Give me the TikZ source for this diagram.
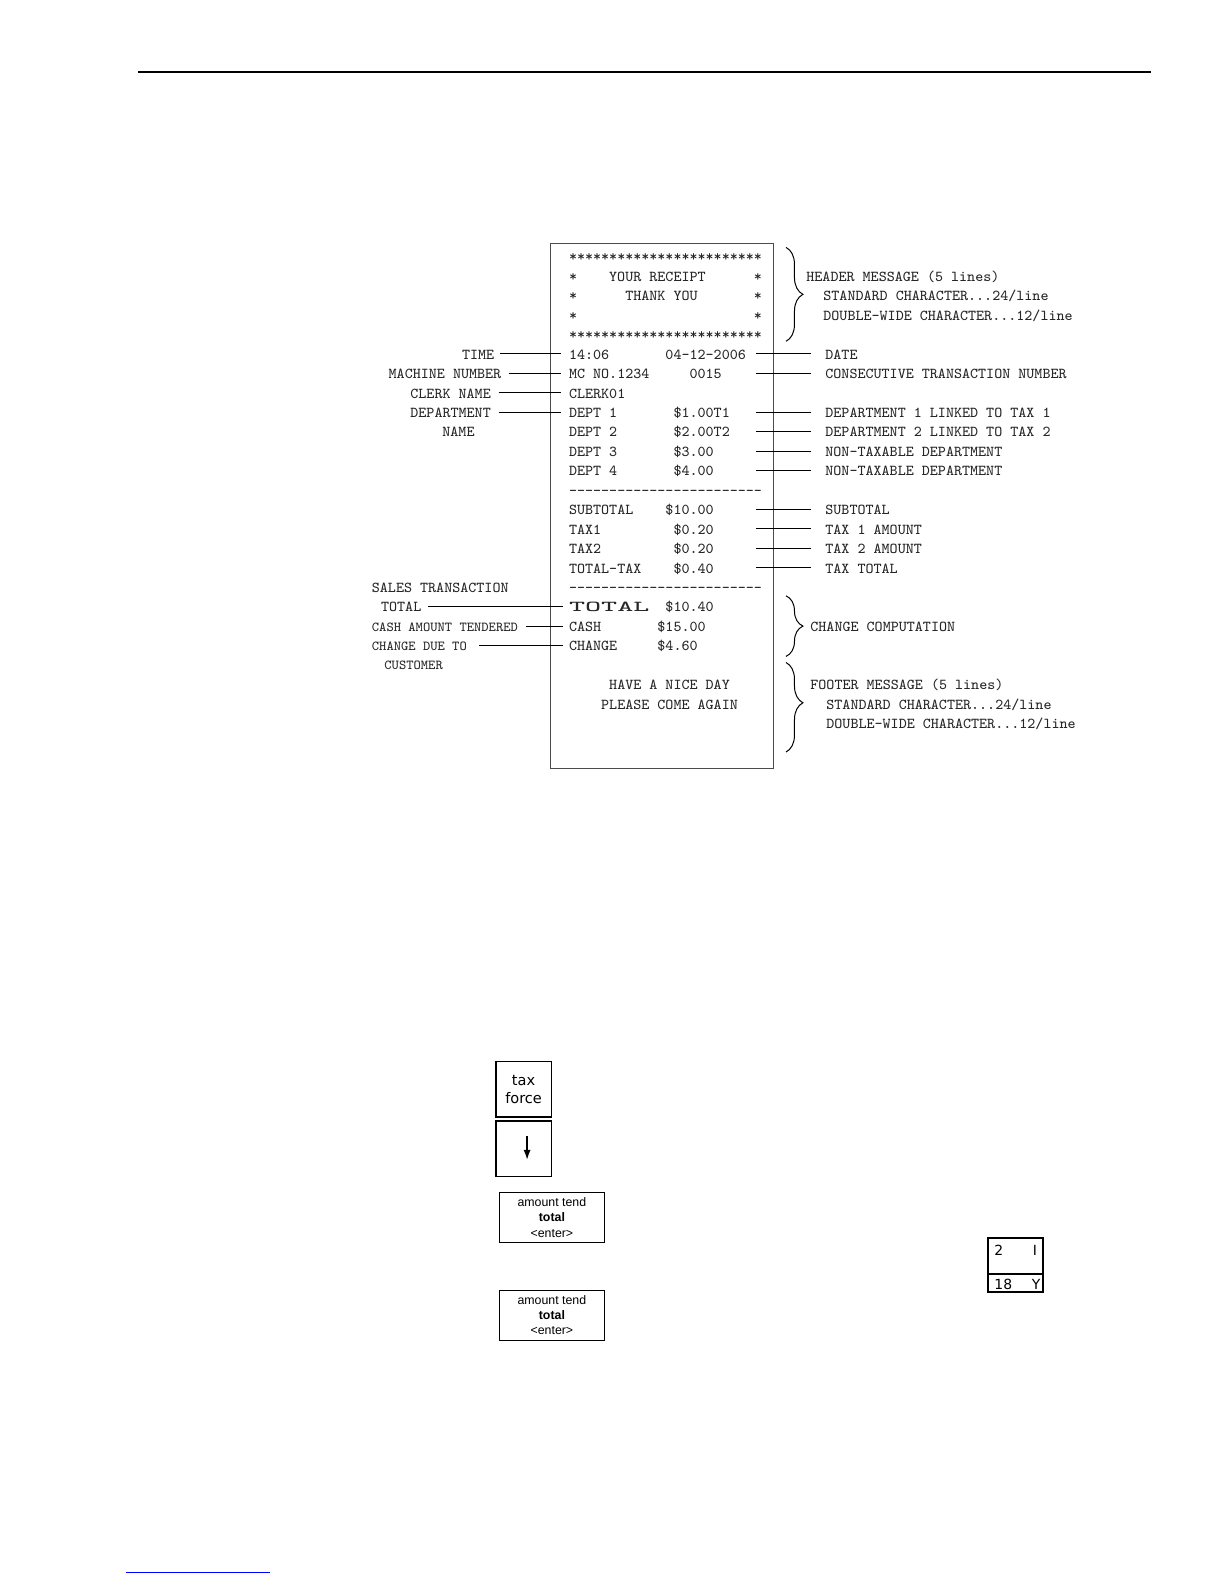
\documentclass[tikz,border=0pt]{standalone}
\usepackage{fontspec}
\usetikzlibrary{arrows.meta,decorations.pathreplacing}
\newfontfamily\keyfont{DejaVu Sans}
\newfontfamily\tendfont{Liberation Sans}
\newcommand\rfont{\ttfamily\fontsize{7.6}{9}\selectfont}
\newcommand\rsmallfont{\ttfamily\fontsize{6.9}{9}\selectfont}
\newcommand\starrow{************************}
\newcommand\dashrow{-{}-{}-{}-{}-{}-{}-{}-{}-{}-{}-{}-{}-{}-{}-{}-{}-{}-{}-{}-{}-{}-{}-{}-}
\tikzset{
  rline/.style={anchor=west, inner sep=0pt, text height=5.4pt, text depth=0pt, font=\rfont, text=black!85},
  rsmall/.style={rline, font=\rsmallfont, text height=5pt},
  conn/.style={line width=0.5pt},
  bracedec/.style={decorate, decoration={brace, amplitude=8.5pt}, line width=0.5pt},
  taxkey/.style={draw, line width=0.75pt, minimum width=27.8pt, minimum height=27.8pt,
    inner sep=0pt, align=center, font={\keyfont\fontsize{7.3}{9.1}\selectfont}},
  tendkey/.style={draw, line width=0.6pt, minimum width=53pt, minimum height=24.8pt,
    inner sep=0pt, align=center, font={\tendfont\fontsize{6.2}{7.6}\selectfont}},
  cellnum/.style={inner sep=0pt, font={\keyfont\fontsize{7}{8}\selectfont}}
}
\begin{document}
\begin{tikzpicture}[x=0.5bp,y=-0.5bp]
  \useasboundingbox (0,0) rectangle (1224,1584);
  \draw[line width=0.9pt] (138,72) -- (1151,72);
  \draw[blue, line width=0.4pt] (126,1572) -- (270,1572);

  % the receipt slip
  \draw[line width=0.5pt, black!70] (550.4,243.4) rectangle (773.6,768.5);
  \node[rline] (r0) at (568.6,256) {\starrow};
  \node[rline] (r1) at (568.6,276) {*~~~~YOUR~RECEIPT~~~~~~*};
  \node[rline] (r2) at (568.6,295.4) {*~~~~~~THANK~YOU~~~~~~~*};
  \node[rline] (r3) at (568.6,314.9) {*~~~~~~~~~~~~~~~~~~~~~~*};
  \node[rline] (r4) at (568.6,334.3) {\starrow};
  \node[rline] (r5) at (568.6,353.8) {14:06~~~~~~~04-12-2006};
  \node[rline] (r6) at (568.6,373.2) {MC~NO.1234~~~~~0015};
  \node[rline] (r7) at (568.6,392.7) {CLERK01};
  \node[rline] (r8) at (568.6,412.1) {DEPT~1~~~~~~~\$1.00T1};
  \node[rline] (r9) at (568.6,431.6) {DEPT~2~~~~~~~\$2.00T2};
  \node[rline] (r10) at (568.6,451) {DEPT~3~~~~~~~\$3.00};
  \node[rline] (r11) at (568.6,470.5) {DEPT~4~~~~~~~\$4.00};
  \node[rline] (r12) at (568.6,489.9) {\dashrow};
  \node[rline] (r13) at (568.6,509.4) {SUBTOTAL~~~~\$10.00};
  \node[rline] (r14) at (568.6,528.8) {TAX1~~~~~~~~~\$0.20};
  \node[rline] (r15) at (568.6,548.3) {TAX2~~~~~~~~~\$0.20};
  \node[rline] (r16) at (568.6,567.7) {TOTAL-TAX~~~~\$0.40};
  \node[rline] (r17) at (568.6,587.2) {\dashrow};
  \node[rline] (r18) at (568.6,606.6) {\scalebox{2}[1]{TOTAL}~~\$10.40};
  \node[rline] (r19) at (568.6,626.1) {CASH~~~~~~~\$15.00};
  \node[rline] (r20) at (568.6,645.5) {CHANGE~~~~~\$4.60};
  \node[rline] (r22) at (568.6,684.4) {~~~~~HAVE~A~NICE~DAY};
  \node[rline] (r23) at (568.6,703.9) {~~~~PLEASE~COME~AGAIN};

  % labels on the left
  \coordinate (lc) at (560.5,0);
  \node[rline] (lTime) at (461.7,353.8) {TIME};
  \node[rline] (lMach) at (388.3,373.2) {MACHINE~NUMBER};
  \node[rline] (lClerk) at (410,392.7) {CLERK~NAME};
  \node[rline] (lDept) at (410,412.1) {DEPARTMENT};
  \node[rline] (lName) at (442,431.6) {NAME};
  \node[rline] (lSales) at (371.5,587.2) {SALES~TRANSACTION};
  \node[rline] (lTotal) at (380.7,606.6) {TOTAL};
  \node[rsmall] (lCash) at (371.5,626.1) {CASH~AMOUNT~TENDERED};
  \node[rsmall] (lChange) at (371.5,645.5) {CHANGE~DUE~TO};
  \node[rsmall] (lCust) at (384,665) {CUSTOMER};
  \draw[conn] ([xshift=2.5pt]lTime.east) -- (r5.west -| lc);
  \draw[conn] ([xshift=3.5pt]lMach.east) -- (r6.west -| lc);
  \draw[conn] ([xshift=3.7pt]lClerk.east) -- (r7.west -| lc);
  \draw[conn] ([xshift=3.7pt]lDept.east) -- (r8.west -| lc);
  \draw[conn] ([xshift=3pt]lTotal.east) -- ([xshift=-3pt]r18.west);
  \draw[conn] ([xshift=3.8pt]lCash.east) -- ([xshift=-3pt]r19.west);
  \draw[conn] ([xshift=6pt]lChange.east) -- ([xshift=-3pt]r20.west);

  % labels on the right
  \coordinate (rc) at (755.5,0);
  \node[rline] (dDate) at (825,353.8) {DATE};
  \node[rline] (dCons) at (825,373.2) {CONSECUTIVE~TRANSACTION~NUMBER};
  \node[rline] (dDept1) at (825,412.1) {DEPARTMENT~1~LINKED~TO~TAX~1};
  \node[rline] (dDept2) at (825,431.6) {DEPARTMENT~2~LINKED~TO~TAX~2};
  \node[rline] (dDept3) at (825,451) {NON-TAXABLE~DEPARTMENT};
  \node[rline] (dDept4) at (825,470.5) {NON-TAXABLE~DEPARTMENT};
  \node[rline] (dSub) at (825,509.4) {SUBTOTAL};
  \node[rline] (dTax1) at (825,528.8) {TAX~1~AMOUNT};
  \node[rline] (dTax2) at (825,548.3) {TAX~2~AMOUNT};
  \node[rline] (dTaxTot) at (825,567.7) {TAX~TOTAL};
  \foreach \r/\d in {r5/dDate, r6/dCons, r8/dDept1, r9/dDept2, r10/dDept3,
      r11/dDept4, r13/dSub, r14/dTax1, r15/dTax2, r16/dTaxTot}
    \draw[conn] (\r.west -| rc) -- ([xshift=-7pt]\d.west);

  % braces
  \draw[bracedec] (786,247.4) -- (786,341.3);
  \draw[bracedec] (786,595.8) -- (786,656.4);
  \draw[bracedec, decoration={aspect=0.45}] (786,662.5) -- (786,752);
  \node[rline] (hMsg) at (806,276) {HEADER~MESSAGE~(5~lines)};
  \node[rline] (hStd) at (823,295.4) {STANDARD~CHARACTER...24/line};
  \node[rline] (hDbl) at (823,314.9) {DOUBLE-WIDE~CHARACTER...12/line};
  \node[rline] (cComp) at (810,626.1) {CHANGE~COMPUTATION};
  \node[rline] (fMsg) at (810,684.4) {FOOTER~MESSAGE~(5~lines)};
  \node[rline] (fStd) at (826,703.9) {STANDARD~CHARACTER...24/line};
  \node[rline] (fDbl) at (826,723.3) {DOUBLE-WIDE~CHARACTER...12/line};

  % keys
  \node[taxkey] (kTax) at (523.6,1089.2) {tax\\force};
  \node[taxkey] (kDown) at (523.6,1148.8) {};
  \draw[-{Latex[length=5pt,width=3.6pt]}, line width=0.7pt]
    ([shift={(3.5,-12.5)}]kDown.center) -- ([shift={(3.5,11)}]kDown.center);
  \node[tendkey] (kTend1) at (551.9,1217.5) {amount tend\\\textbf{total}\\<enter>};
  \node[tendkey] (kTend2) at (551.9,1315.4) {amount tend\\\textbf{total}\\<enter>};

  % display cell
  \draw[line width=0.6pt] (988,1238) rectangle (1043,1292);
  \draw[line width=0.6pt] (988,1274) -- (1043,1274);
  \node[cellnum, anchor=west] (cTwo) at (994,1250) {2};
  \node[cellnum] (cI) at (1035,1250) {I};
  \node[cellnum, anchor=west] (cEighteen) at (994,1284) {18};
  \node[cellnum] (cY) at (1036,1284) {Y};
\end{tikzpicture}
\end{document}
